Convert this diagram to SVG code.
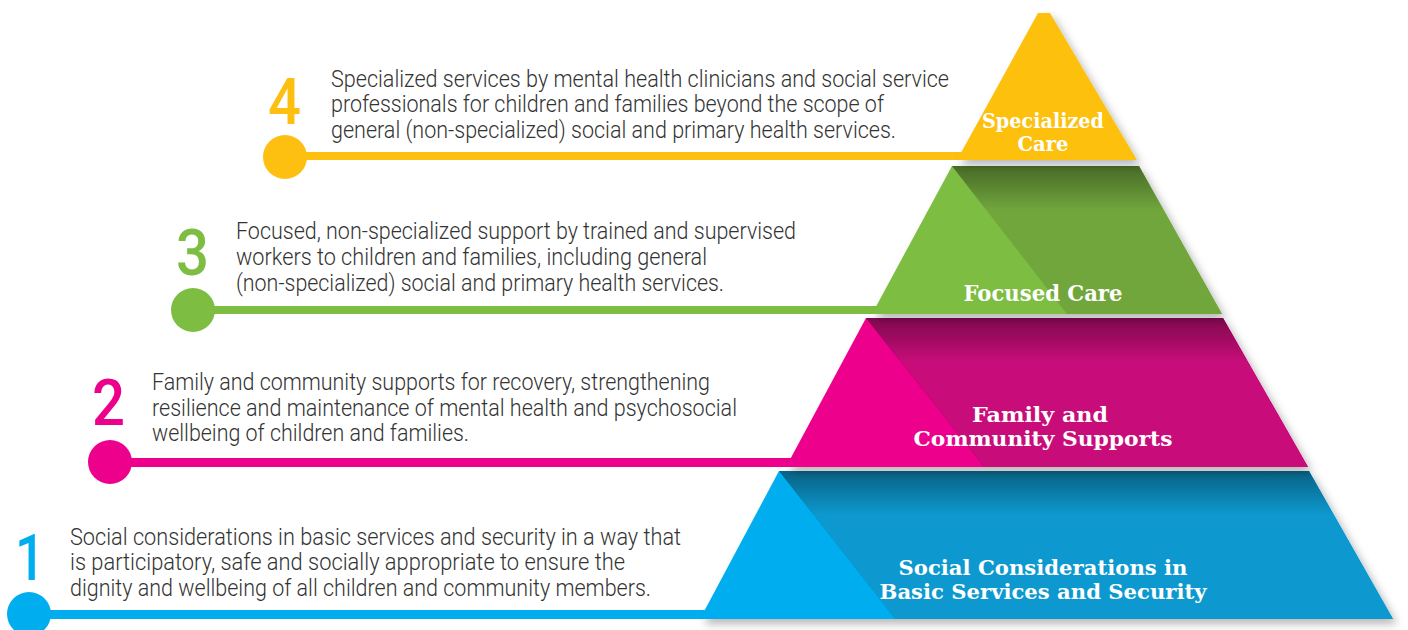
<svg xmlns="http://www.w3.org/2000/svg" width="1408" height="630" viewBox="0 0 1408 630">
<style>
.body{font-family:"Roboto","Liberation Sans",sans-serif;font-size:23px;font-weight:300;fill:#333333;}
.num{font-family:"Roboto","Liberation Sans",sans-serif;font-size:64px;font-weight:500;}
.lbl{font-family:"DejaVu Serif","Liberation Serif",serif;font-weight:bold;fill:#ffffff;text-anchor:middle;}
</style>
<defs>
<filter id="ds" x="-10%" y="-10%" width="125%" height="130%">
<feDropShadow dx="4" dy="5" stdDeviation="4" flood-color="#000" flood-opacity="0.28"/>
</filter>
<linearGradient id="topShade" x1="0" y1="0" x2="0" y2="1">
<stop offset="0" stop-color="#000" stop-opacity="0.36"/>
<stop offset="0.12" stop-color="#000" stop-opacity="0.22"/>
<stop offset="0.3" stop-color="#000" stop-opacity="0"/>
</linearGradient>
</defs>

<g id="connectors">
<rect x="285" y="152" width="690" height="8" fill="#fdc010"/>
<circle cx="285" cy="157" r="22" fill="#fdc010"/>
<rect x="193" y="306" width="700" height="8" fill="#7dbd42"/>
<circle cx="193" cy="310" r="22" fill="#7dbd42"/>
<rect x="110" y="458" width="700" height="9" fill="#ec008c"/>
<circle cx="110" cy="462" r="22" fill="#ec008c"/>
<rect x="29" y="610" width="700" height="9" fill="#00aeef"/>
<circle cx="29" cy="614" r="22" fill="#00aeef"/>
</g>

<g id="tier-1">
<g filter="url(#ds)">
<polygon points="779,471 1309,471 1393,619 700,619" fill="#00aeef"/>
<polygon points="779,471 1309,471 1393,619 895,619" fill="#0799cf"/>
</g>
<polygon points="779,471 1309,471 1393,619 895,619" fill="url(#topShade)"/>
<text class="lbl" x="1043" y="575" font-size="21" textLength="289" lengthAdjust="spacingAndGlyphs">Social Considerations in</text>
<text class="lbl" x="1043" y="599" font-size="21" textLength="327" lengthAdjust="spacingAndGlyphs">Basic Services and Security</text>
</g>

<g id="tier-2">
<g filter="url(#ds)">
<polygon points="866,318 1223,318 1308,467 786,467" fill="#ec008c"/>
<polygon points="866,318 1223,318 1308,467 984,467" fill="#c8077a"/>
</g>
<polygon points="866,318 1223,318 1308,467 984,467" fill="url(#topShade)"/>
<text class="lbl" x="1040" y="422" font-size="21" textLength="136" lengthAdjust="spacingAndGlyphs">Family and</text>
<text class="lbl" x="1043" y="446" font-size="21" textLength="259" lengthAdjust="spacingAndGlyphs">Community Supports</text>
</g>

<g id="tier-3">
<g filter="url(#ds)">
<polygon points="952,166 1139,166 1222,314 872,314" fill="#7dbd42"/>
<polygon points="952,166 1139,166 1222,314 1067,314" fill="#71a63d"/>
</g>
<polygon points="952,166 1139,166 1222,314 1067,314" fill="url(#topShade)"/>
<text class="lbl" x="1043" y="301" font-size="23" textLength="159" lengthAdjust="spacingAndGlyphs">Focused Care</text>
</g>

<g id="tier-4">
<polygon points="1038,13 1050,13 1137,160 957,160" fill="#fdc010" filter="url(#ds)"/>
<text class="lbl" x="1043" y="128" font-size="20" textLength="122" lengthAdjust="spacingAndGlyphs">Specialized</text>
<text class="lbl" x="1043" y="151" font-size="20" textLength="51" lengthAdjust="spacingAndGlyphs">Care</text>
</g>

<g id="desc-4">
<text class="num" x="268" y="124" fill="#fdc010" textLength="33" lengthAdjust="spacingAndGlyphs">4</text>
<text class="body" x="331" y="87" textLength="618" lengthAdjust="spacingAndGlyphs">Specialized services by mental health clinicians and social service</text>
<text class="body" x="331" y="112" textLength="553" lengthAdjust="spacingAndGlyphs">professionals for children and families beyond the scope of</text>
<text class="body" x="331" y="138" textLength="565" lengthAdjust="spacingAndGlyphs">general (non-specialized) social and primary health services.</text>
</g>

<g id="desc-3">
<text class="num" x="176" y="275" fill="#7dbd42" textLength="33" lengthAdjust="spacingAndGlyphs">3</text>
<text class="body" x="236" y="239" textLength="560" lengthAdjust="spacingAndGlyphs">Focused, non-specialized support by trained and supervised</text>
<text class="body" x="236" y="265" textLength="471" lengthAdjust="spacingAndGlyphs">workers to children and families, including general</text>
<text class="body" x="236" y="291" textLength="488" lengthAdjust="spacingAndGlyphs">(non-specialized) social and primary health services.</text>
</g>

<g id="desc-2">
<text class="num" x="92" y="425" fill="#ec008c" textLength="33" lengthAdjust="spacingAndGlyphs">2</text>
<text class="body" x="152" y="390" textLength="558" lengthAdjust="spacingAndGlyphs">Family and community supports for recovery, strengthening</text>
<text class="body" x="152" y="416" textLength="585" lengthAdjust="spacingAndGlyphs">resilience and maintenance of mental health and psychosocial</text>
<text class="body" x="152" y="441" textLength="317" lengthAdjust="spacingAndGlyphs">wellbeing of children and families.</text>
</g>

<g id="desc-1">
<text class="num" x="15" y="580" fill="#00aeef" textLength="30" lengthAdjust="spacingAndGlyphs">1</text>
<text class="body" x="70" y="545" textLength="611" lengthAdjust="spacingAndGlyphs">Social considerations in basic services and security in a way that</text>
<text class="body" x="70" y="570" textLength="555" lengthAdjust="spacingAndGlyphs">is participatory, safe and socially appropriate to ensure the</text>
<text class="body" x="70" y="596" textLength="581" lengthAdjust="spacingAndGlyphs">dignity and wellbeing of all children and community members.</text>
</g>
</svg>
